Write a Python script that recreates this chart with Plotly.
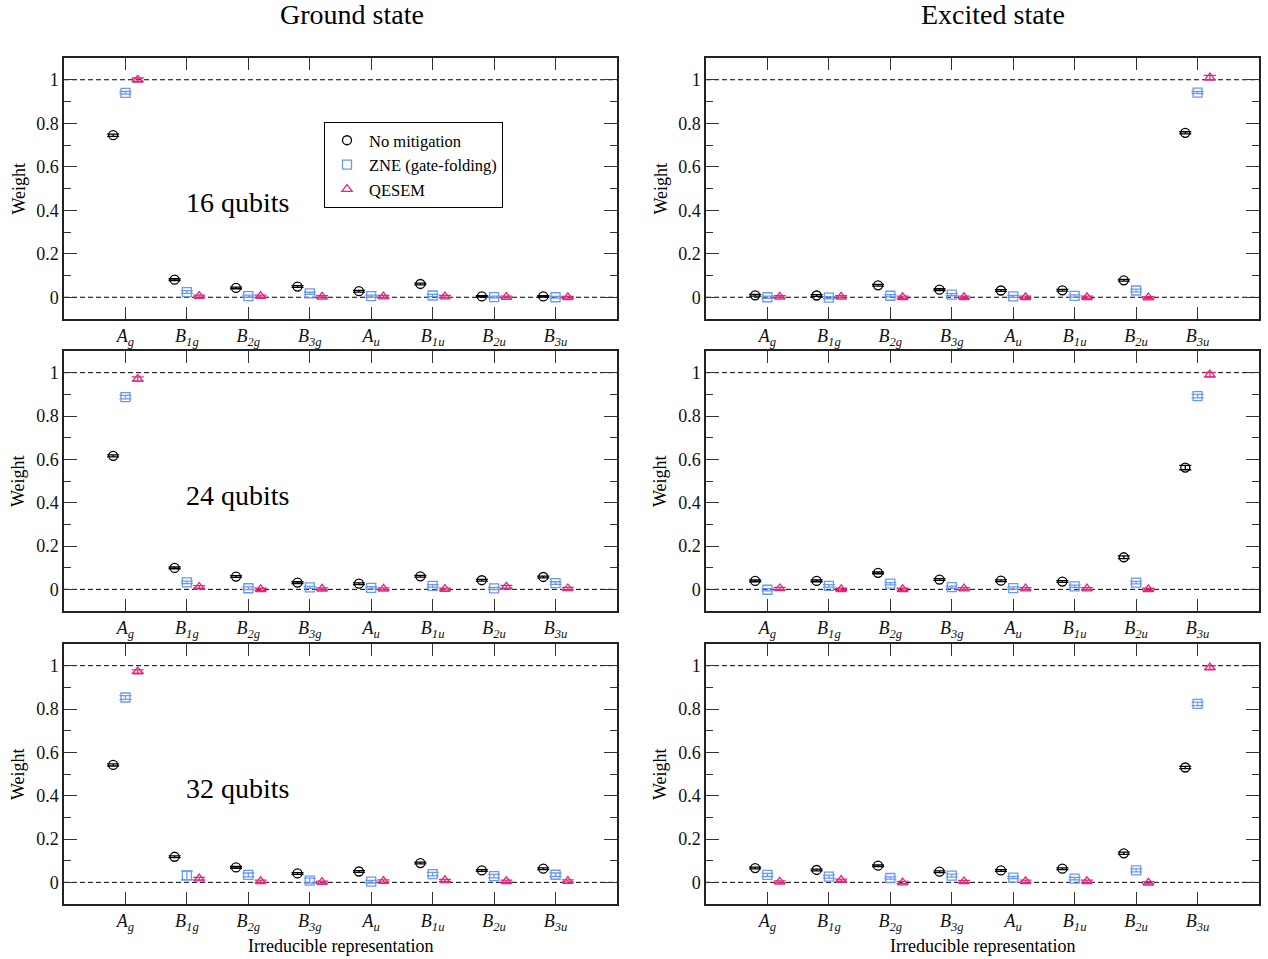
import plotly.graph_objects as go

# Irreducible representations of D2h and their axis labels
irreps = ["Ag", "B1g", "B2g", "B3g", "Au", "B1u", "B2u", "B3u"]
irrep_labels = [
    "<i>A</i><sub><i>g</i></sub>", "<i>B</i><sub><i>1g</i></sub>",
    "<i>B</i><sub><i>2g</i></sub>", "<i>B</i><sub><i>3g</i></sub>",
    "<i>A</i><sub><i>u</i></sub>", "<i>B</i><sub><i>1u</i></sub>",
    "<i>B</i><sub><i>2u</i></sub>", "<i>B</i><sub><i>3u</i></sub>",
]
series_names = ["No mitigation", "ZNE (gate-folding)", "QESEM"]
qubit_counts = [16, 24, 32]

# Ground state weights
ground16_nomit = [0.745, 0.081, 0.043, 0.049, 0.028, 0.061, 0.004, 0.004]
ground16_zne = [0.940, 0.024, 0.005, 0.018, 0.005, 0.008, 0.001, 0.000]
ground16_qesem = [1.000, 0.005, 0.005, 0.002, 0.003, 0.003, 0.001, 0.000]
ground24_nomit = [0.616, 0.099, 0.059, 0.031, 0.026, 0.060, 0.042, 0.057]
ground24_zne = [0.887, 0.032, 0.005, 0.009, 0.007, 0.016, 0.004, 0.029]
ground24_qesem = [0.971, 0.011, 0.000, 0.002, 0.002, 0.001, 0.012, 0.004]
ground32_nomit = [0.542, 0.118, 0.069, 0.041, 0.050, 0.089, 0.055, 0.063]
ground32_zne = [0.853, 0.032, 0.034, 0.008, 0.003, 0.038, 0.029, 0.035]
ground32_qesem = [0.973, 0.017, 0.005, 0.001, 0.006, 0.009, 0.005, 0.006]

# Excited state weights
excited16_nomit = [0.009, 0.008, 0.055, 0.035, 0.031, 0.032, 0.078, 0.756]
excited16_zne = [0.000, -0.002, 0.007, 0.012, 0.004, 0.006, 0.031, 0.941]
excited16_qesem = [0.002, 0.002, 0.000, 0.000, 0.000, 0.000, -0.002, 1.010]
excited24_nomit = [0.039, 0.039, 0.076, 0.045, 0.040, 0.036, 0.148, 0.562]
excited24_zne = [-0.002, 0.016, 0.026, 0.010, 0.006, 0.014, 0.031, 0.892]
excited24_qesem = [0.004, 0.000, 0.000, 0.003, 0.003, 0.003, 0.000, 0.991]
excited32_nomit = [0.066, 0.057, 0.077, 0.049, 0.055, 0.063, 0.134, 0.530]
excited32_zne = [0.034, 0.026, 0.020, 0.031, 0.022, 0.017, 0.055, 0.824]
excited32_qesem = [0.002, 0.010, -0.001, 0.004, 0.005, 0.005, -0.002, 0.991]

# Statistical uncertainties
ground16_nomit_err = [0.005, 0.004, 0.004, 0.004, 0.004, 0.004, 0.003, 0.003]
ground16_zne_err = [0.006, 0.006, 0.005, 0.005, 0.005, 0.005, 0.004, 0.004]
ground16_qesem_err = [0.008, 0.005, 0.005, 0.005, 0.005, 0.005, 0.004, 0.004]
ground24_nomit_err = [0.005, 0.004, 0.004, 0.004, 0.004, 0.004, 0.004, 0.004]
ground24_zne_err = [0.008, 0.006, 0.006, 0.005, 0.005, 0.006, 0.005, 0.006]
ground24_qesem_err = [0.010, 0.006, 0.005, 0.005, 0.005, 0.005, 0.006, 0.005]
ground32_nomit_err = [0.005, 0.004, 0.004, 0.004, 0.004, 0.004, 0.004, 0.004]
ground32_zne_err = [0.009, 0.020, 0.009, 0.011, 0.006, 0.008, 0.008, 0.008]
ground32_qesem_err = [0.008, 0.006, 0.005, 0.005, 0.005, 0.005, 0.005, 0.005]
excited16_nomit_err = [0.004, 0.004, 0.004, 0.004, 0.004, 0.004, 0.004, 0.005]
excited16_zne_err = [0.005, 0.005, 0.005, 0.005, 0.005, 0.005, 0.006, 0.005]
excited16_qesem_err = [0.005, 0.005, 0.005, 0.005, 0.005, 0.005, 0.005, 0.010]
excited24_nomit_err = [0.004, 0.004, 0.004, 0.004, 0.004, 0.004, 0.006, 0.010]
excited24_zne_err = [0.005, 0.006, 0.005, 0.005, 0.005, 0.005, 0.006, 0.008]
excited24_qesem_err = [0.005, 0.005, 0.005, 0.005, 0.005, 0.005, 0.005, 0.010]
excited32_nomit_err = [0.004, 0.004, 0.004, 0.004, 0.004, 0.004, 0.005, 0.005]
excited32_zne_err = [0.007, 0.007, 0.005, 0.007, 0.005, 0.006, 0.007, 0.008]
excited32_qesem_err = [0.005, 0.005, 0.005, 0.005, 0.005, 0.005, 0.005, 0.008]

panels = {
    ("ground", 16): [(ground16_nomit, ground16_nomit_err), (ground16_zne, ground16_zne_err), (ground16_qesem, ground16_qesem_err)],
    ("ground", 24): [(ground24_nomit, ground24_nomit_err), (ground24_zne, ground24_zne_err), (ground24_qesem, ground24_qesem_err)],
    ("ground", 32): [(ground32_nomit, ground32_nomit_err), (ground32_zne, ground32_zne_err), (ground32_qesem, ground32_qesem_err)],
    ("excited", 16): [(excited16_nomit, excited16_nomit_err), (excited16_zne, excited16_zne_err), (excited16_qesem, excited16_qesem_err)],
    ("excited", 24): [(excited24_nomit, excited24_nomit_err), (excited24_zne, excited24_zne_err), (excited24_qesem, excited24_qesem_err)],
    ("excited", 32): [(excited32_nomit, excited32_nomit_err), (excited32_zne, excited32_zne_err), (excited32_qesem, excited32_qesem_err)],
}

colors = ["#000000", "#6a98f5", "#e0287d"]
symbols = ["circle-open", "square-open", "triangle-up-open"]
offsets = [-0.2, 0.0, 0.2]

W, H = 1268, 959
FONT = "Liberation Serif, Times New Roman, serif"

# panel frames in pixels
col_px = {"ground": (64, 617), "excited": (706, 1259)}
row_px = {16: (58, 319), 24: (351, 611), 32: (644, 904)}


def paper_text(px, py, text, size, angle=0):
    return dict(xref="paper", yref="paper", x=px / W, y=1 - py / H, text=text,
                xanchor="center", yanchor="middle", textangle=angle, showarrow=False,
                font=dict(family=FONT, size=size, color="#000000"))


fig = go.Figure()
layout = {}
shapes = []
annotations = []

idx = 0
for state in ["ground", "excited"]:
    for n in qubit_counts:
        idx += 1
        xa = "x" if idx == 1 else f"x{idx}"
        ya = "y" if idx == 1 else f"y{idx}"
        x0, x1 = col_px[state]
        y0, y1 = row_px[n]
        axis_style = dict(
            showline=True, linecolor="#222222", linewidth=1.5, mirror="allticks",
            ticks="inside", tickcolor="#333333", tickwidth=1.3, showgrid=False,
            zeroline=False, tickfont=dict(family=FONT, size=18, color="#111111"),
        )
        layout[f"xaxis{idx if idx > 1 else ''}"] = dict(
            domain=[x0 / W, x1 / W], anchor=ya, range=[0, 9],
            tickvals=[i + 1 for i in range(len(irreps))], ticktext=irrep_labels,
            ticklen=12, **axis_style,
        )
        layout[f"yaxis{idx if idx > 1 else ''}"] = dict(
            domain=[1 - y1 / H, 1 - y0 / H], anchor=xa, range=[-0.1, 1.1],
            tickvals=[0, 0.2, 0.4, 0.6, 0.8, 1.0], ticktext=["0", "0.2", "0.4", "0.6", "0.8", "1"],
            ticklen=13,
            minor=dict(ticks="inside", tickvals=[0.1, 0.3, 0.5, 0.7, 0.9], ticklen=7,
                       tickcolor="#333333", tickwidth=1.3),
            **axis_style,
        )
        # reference lines at 0 and 1
        for level in (0, 1):
            shapes.append(dict(type="line", xref=f"{xa} domain", yref=ya, x0=0, x1=1,
                               y0=level, y1=level, layer="below",
                               line=dict(color="#000000", width=1, dash="5px,3px")))
        for s, (vals, errs) in enumerate(panels[(state, n)]):
            fig.add_trace(go.Scatter(
                x=[i + 1 + offsets[s] for i in range(len(irreps))], y=vals,
                mode="markers", name=series_names[s],
                showlegend=(idx == 1), legendgroup=series_names[s],
                xaxis=xa, yaxis=ya,
                marker=dict(symbol=symbols[s], size=9, color=colors[s],
                            line=dict(width=1.3, color=colors[s])),
                error_y=dict(type="data", array=errs, visible=True, color=colors[s],
                             thickness=1.3, width=6),
            ))
        if state == "ground":
            annotations.append(dict(xref=xa, yref=ya, x=2.83, y=0.435, text=f"{n} qubits",
                                    xanchor="center", yanchor="middle", showarrow=False,
                                    font=dict(family=FONT, size=28, color="#000000")))
        # y axis label
        annotations.append(paper_text(18 if state == "ground" else 660, (y0 + y1) / 2, "Weight", 18, -90))

annotations += [
    paper_text(352, 15, "Ground state", 28),
    paper_text(993, 15, "Excited state", 28),
    paper_text(340.5, 946, "Irreducible representation", 18),
    paper_text(982.5, 946, "Irreducible representation", 18),
]

fig.update_layout(
    width=W, height=H, margin=dict(l=0, r=0, t=0, b=0),
    paper_bgcolor="white", plot_bgcolor="white",
    shapes=shapes, annotations=annotations,
    legend=dict(x=324 / W, y=1 - 122 / H, xanchor="left", yanchor="top",
                bordercolor="#000000", borderwidth=1, bgcolor="white",
                font=dict(family=FONT, size=16.5, color="#000000"),
                tracegroupgap=0, itemwidth=34),
    **layout,
)

fig.write_html("out.html")
